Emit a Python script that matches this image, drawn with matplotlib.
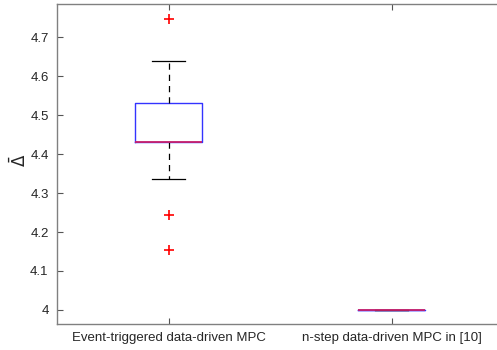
import matplotlib
matplotlib.use('Agg')
import matplotlib.pyplot as plt

plt.rcParams['font.family'] = ['Liberation Sans', 'DejaVu Sans']

# values
labels = ['Event-triggered data-driven MPC', 'n-step data-driven MPC in [10]']
q1 = [4.432, 4.0]
med = [4.432, 4.0]
q3 = [4.532, 4.0]
whislo = [4.335, 4.0]
whishi = [4.640, 4.0]
fliers = [[4.747, 4.243, 4.155], []]

stats = []
for i in range(len(labels)):
    stats.append({'label': labels[i], 'q1': q1[i], 'med': med[i], 'q3': q3[i],
                  'whislo': whislo[i], 'whishi': whishi[i], 'fliers': fliers[i]})

fig = plt.figure(figsize=(4.97, 3.5), dpi=100)
# axes runs a little past the right edge, like the source
ax = fig.add_axes([57 / 497, 26 / 350, 446 / 497, 320 / 350])

ax.bxp(stats, positions=[1, 2], widths=0.3,
       boxprops=dict(color='#3333ff', linewidth=1.0),
       medianprops=dict(color='#c8206a', linewidth=1.3),
       whiskerprops=dict(color='black', linestyle=(0, (5, 4)), linewidth=0.9),
       capprops=dict(color='black', linewidth=0.9),
       capwidths=0.15,
       flierprops=dict(marker='+', markeredgecolor='red', markersize=7, markeredgewidth=1.2))

ax.set_xlim(0.5, 2.5)
ax.set_ylim(3.964, 4.785)
ax.set_yticks([4, 4.1, 4.2, 4.3, 4.4, 4.5, 4.6, 4.7])
ax.set_yticklabels(['4', '4.1', '4.2', '4.3', '4.4', '4.5', '4.6', '4.7'])

for s in ax.spines.values():
    s.set_color('#808080')
    s.set_linewidth(1.0)
ax.tick_params(direction='in', top=True, right=True, length=4, color='#555555',
               labelsize=9.5, labelcolor='#262626', pad=6)
ax.set_ylabel(r'$\bar{\Delta}$', fontsize=12, color='#262626')
ax.yaxis.set_label_coords(-0.063, 0.51)

fig.savefig('out.png', dpi=100)
